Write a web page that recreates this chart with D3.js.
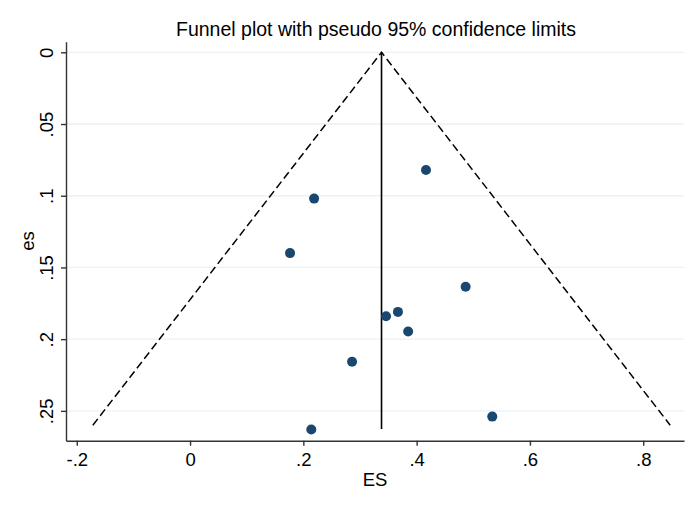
<!DOCTYPE html>
<html>
<head>
<meta charset="utf-8">
<script src="https://cdn.jsdelivr.net/npm/d3@7"></script>
<style>
  body { margin: 0; background: #fff; }
  text { font-family: "Liberation Sans", Arial, sans-serif; fill: #000; }
</style>
</head>
<body>
<svg id="chart" width="697" height="506"></svg>
<script>
// study effect sizes and their standard errors
var effectSizes = [0.4165, 0.219, 0.1765, 0.4865, 0.367, 0.346, 0.385, 0.286, 0.5335, 0.214];
var stdErrors   = [0.082, 0.102, 0.140, 0.1635, 0.181, 0.184, 0.1946, 0.2157, 0.254, 0.263];

var pooledES = 0.338;
var funnelDepth = 0.26;
var lineDepth = 0.2627;
var z95 = 1.96;

var xTicks = [-0.2, 0, 0.2, 0.4, 0.6, 0.8];
var xTickLabels = ["-.2", "0", ".2", ".4", ".6", ".8"];
var yTicks = [0, 0.05, 0.1, 0.15, 0.2, 0.25];
var yTickLabels = ["0", ".05", ".1", ".15", ".2", ".25"];

var svg = d3.select("#chart");

var x = d3.scaleLinear().domain([-0.219, 0.872]).range([66, 684]);
var y = d3.scaleLinear().domain([-0.0074, 0.2708]).range([41.7, 440.7]);

// grid lines
svg.append("g").selectAll("line")
	.data(yTicks)
	.enter().append("line")
	.attr("x1", x.range()[0]).attr("x2", x.range()[1])
	.attr("y1", function(d) { return y(d); })
	.attr("y2", function(d) { return y(d); })
	.attr("stroke", "#eaf2f3")
	.attr("stroke-width", 1.3);

// axes
var xAxis = d3.axisBottom(x).tickValues(xTicks)
	.tickFormat(function(d, i) { return xTickLabels[i]; })
	.tickSize(5).tickSizeOuter(0).tickPadding(6);
var yAxis = d3.axisLeft(y).tickValues(yTicks)
	.tickFormat(function(d, i) { return yTickLabels[i]; })
	.tickSize(5).tickSizeOuter(0).tickPadding(6);

var gx = svg.append("g")
	.attr("transform", "translate(0," + y.range()[1] + ")")
	.call(xAxis);
gx.selectAll("text").style("font-size", "18.5px").attr("dy", "0.78em");

var gy = svg.append("g")
	.attr("transform", "translate(" + x.range()[0] + ",0)")
	.call(yAxis);
gy.selectAll("text")
	.style("font-size", "18.5px")
	.attr("text-anchor", "middle")
	.attr("dy", 0)
	.attr("transform", "translate(-13.5,0) rotate(-90)")
	.attr("x", 0).attr("y", 0);

[gx, gy].forEach(function(g) {
	g.selectAll(".domain").attr("stroke", "#333").attr("stroke-width", 1.4);
	g.selectAll(".tick line").attr("stroke", "#333").attr("stroke-width", 1.4);
});

// pseudo 95% confidence limits
var funnel = [
	[pooledES - z95 * funnelDepth, funnelDepth],
	[pooledES, 0],
	[pooledES + z95 * funnelDepth, funnelDepth]
];
svg.append("path")
	.datum(funnel)
	.attr("d", d3.line().x(function(d) { return x(d[0]); }).y(function(d) { return y(d[1]); }))
	.attr("fill", "none")
	.attr("stroke", "#000")
	.attr("stroke-width", 1.5)
	.attr("stroke-dasharray", "8,4");

svg.append("line")
	.attr("x1", x(pooledES)).attr("x2", x(pooledES))
	.attr("y1", y(0)).attr("y2", y(lineDepth))
	.attr("stroke", "#000")
	.attr("stroke-width", 1.6);

// studies
svg.append("g").selectAll("circle")
	.data(effectSizes)
	.enter().append("circle")
	.attr("cx", function(d) { return x(d); })
	.attr("cy", function(d, i) { return y(stdErrors[i]); })
	.attr("r", 5)
	.attr("fill", "#1a476f");

// titles
svg.append("text")
	.attr("x", 376).attr("y", 36)
	.attr("text-anchor", "middle")
	.style("font-size", "19.5px")
	.text("Funnel plot with pseudo 95% confidence limits");

svg.append("text")
	.attr("x", 375).attr("y", 486)
	.attr("text-anchor", "middle")
	.style("font-size", "18.5px")
	.text("ES");

svg.append("text")
	.attr("transform", "translate(34,241) rotate(-90)")
	.attr("text-anchor", "middle")
	.style("font-size", "18.5px")
	.text("es");
</script>
</body>
</html>
